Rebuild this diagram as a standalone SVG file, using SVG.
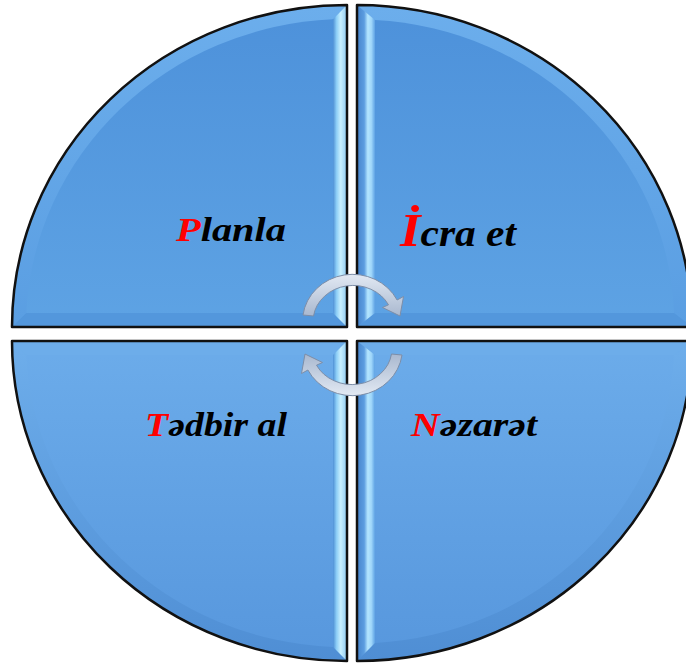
<svg xmlns="http://www.w3.org/2000/svg" width="686" height="664" viewBox="0 0 686 664">
<defs>
<linearGradient id="gTop" gradientUnits="userSpaceOnUse" x1="0" y1="5" x2="0" y2="327">
<stop offset="0" stop-color="#4d91da"/><stop offset="1" stop-color="#5ea3e4"/>
</linearGradient>
<linearGradient id="gBot" gradientUnits="userSpaceOnUse" x1="0" y1="341" x2="0" y2="661">
<stop offset="0" stop-color="#6cacea"/><stop offset="1" stop-color="#5797dd"/>
</linearGradient>
<linearGradient id="gBevT" gradientUnits="userSpaceOnUse" x1="0" y1="5" x2="0" y2="327">
<stop offset="0" stop-color="#6caeec"/><stop offset="1" stop-color="#5a9ee2"/>
</linearGradient>
<linearGradient id="gBevB" gradientUnits="userSpaceOnUse" x1="0" y1="341" x2="0" y2="661">
<stop offset="0" stop-color="#6eaeeb"/><stop offset="1" stop-color="#4f8ed4"/>
</linearGradient>
<linearGradient id="gStripL" gradientUnits="userSpaceOnUse" x1="333" y1="0" x2="347" y2="0">
<stop offset="0" stop-color="#4f90d6"/><stop offset="0.25" stop-color="#8ccdf6"/><stop offset="0.55" stop-color="#c8f0ff"/><stop offset="1" stop-color="#8fcaf2"/>
</linearGradient>
<linearGradient id="gStripR" gradientUnits="userSpaceOnUse" x1="357" y1="0" x2="375" y2="0">
<stop offset="0" stop-color="#4684cc"/><stop offset="0.4" stop-color="#5c9de0"/><stop offset="0.6" stop-color="#b4e6ff"/><stop offset="0.8" stop-color="#9fd6fa"/><stop offset="1" stop-color="#5ea2e4"/>
</linearGradient>
<linearGradient id="gArrow" x1="0" y1="0" x2="0" y2="1">
<stop offset="0" stop-color="#e2e9f3"/><stop offset="1" stop-color="#a9b8cf"/>
</linearGradient>
</defs>
<style>
.outline{fill:none;stroke:#111;stroke-width:2.5;stroke-linejoin:round}
.hb{fill:#5397dc}
.ht{fill:#6dadea}
.arrow{fill:url(#gArrow);stroke:#7d8ea8;stroke-width:1}
.lbl{font-family:"Liberation Serif","Times New Roman",serif;font-weight:bold;font-style:italic;font-size:34px;fill:#000}
.red{fill:#ff0000}
</style>
<rect width="686" height="664" fill="#ffffff"/>
<g id="node-planla">
<path d="M347,327 L12,327 A335 322 0 0 1 347,5 Z" fill="url(#gBevT)"/>
<path d="M333,313 L26.3,313 A321 308 0 0 1 333,19.3 Z" fill="url(#gTop)"/>
<polygon class="hb" points="12,327 347,327 333,313 26.3,313"/>
<polygon points="347,5 347,327 333,313 333,19.3" fill="url(#gStripL)"/>
<path class="outline" d="M347,327 L12,327 A335 322 0 0 1 347,5 Z"/>
<text class="lbl" x="176" y="241" textLength="110" lengthAdjust="spacingAndGlyphs"><tspan class="red">P</tspan>lanla</text>
</g>
<g id="node-icra">
<path d="M357,327 L357,5 A335 322 0 0 1 692,327 Z" fill="url(#gBevT)"/>
<path d="M375,313 L375,20 A317 304 0 0 1 674,313 Z" fill="url(#gTop)"/>
<polygon class="hb" points="692,327 357,327 375,313 674,313"/>
<polygon points="357,5 357,327 375,313 375,20" fill="url(#gStripR)"/>
<path class="outline" d="M357,327 L357,5 A335 322 0 0 1 692,327 Z"/>
<text class="lbl" x="400" y="246" textLength="116" lengthAdjust="spacingAndGlyphs" style="font-size:37px"><tspan class="red" style="font-size:47px">İ</tspan>cra et</text>
</g>
<g id="node-tedbir">
<path d="M347,341 L347,661 A335 320 0 0 1 12,341 Z" fill="url(#gBevB)"/>
<path d="M333,355 L333,647 A321 306 0 0 1 26.3,355 Z" fill="url(#gBot)"/>
<polygon class="ht" points="12,341 347,341 333,355 26.3,355"/>
<polygon points="347,341 347,661 333,647 333,355" fill="url(#gStripL)"/>
<path class="outline" d="M347,341 L347,661 A335 320 0 0 1 12,341 Z"/>
<text class="lbl" x="145" y="436" textLength="142" lengthAdjust="spacingAndGlyphs"><tspan class="red">T</tspan>ədbir al</text>
</g>
<g id="node-nezaret">
<path d="M357,341 L692,341 A335 320 0 0 1 357,661 Z" fill="url(#gBevB)"/>
<path d="M375,355 L674,355 A317 302 0 0 1 375,643 Z" fill="url(#gBot)"/>
<polygon class="ht" points="692,341 357,341 375,355 674,355"/>
<polygon points="357,341 357,661 375,643 375,355" fill="url(#gStripR)"/>
<path class="outline" d="M357,341 L692,341 A335 320 0 0 1 357,661 Z"/>
<text class="lbl" x="411" y="436" textLength="126" lengthAdjust="spacingAndGlyphs"><tspan class="red">N</tspan>əzarət</text>
</g>
<g id="connectors">
<path class="arrow" d="M303,315 A50 47 0 0 1 397.1,300 L403.5,296.5 L400,316 L382.5,307.5 L388.5,304.8 A40 36 0 0 0 313.5,316 Z"/>
<path class="arrow" transform="rotate(180 352.5 335)" d="M303,315 A50 47 0 0 1 397.1,300 L403.5,296.5 L400,316 L382.5,307.5 L388.5,304.8 A40 36 0 0 0 313.5,316 Z"/>
</g>
</svg>
